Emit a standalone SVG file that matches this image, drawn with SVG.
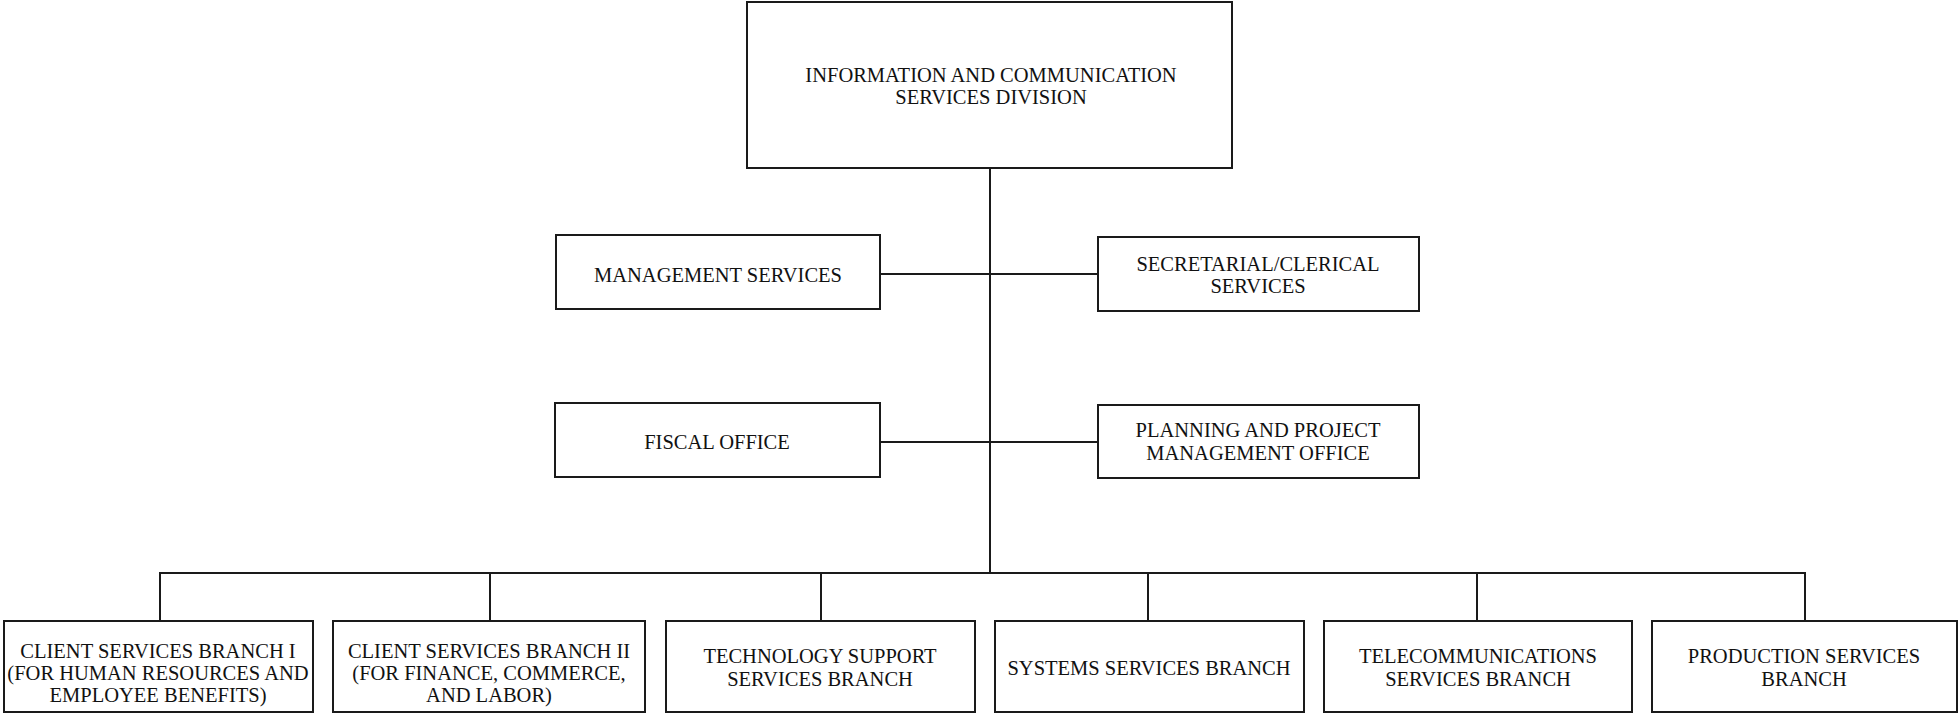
<svg xmlns="http://www.w3.org/2000/svg" width="1959" height="715" viewBox="0 0 1959 715">
<style>
.box{fill:#fff;stroke:#1a1a1a;stroke-width:2}
.ln{stroke:#1a1a1a;stroke-width:2;fill:none}
text{font-family:"Liberation Serif","Times New Roman",serif;font-size:20.5px;fill:#111;text-anchor:middle}
</style>
<rect width="1959" height="715" fill="#fff"/>
<g id="connectors">
<line class="ln" x1="990" y1="168" x2="990" y2="573"/>
<line class="ln" x1="880" y1="274" x2="1098" y2="274"/>
<line class="ln" x1="880" y1="442" x2="1098" y2="442"/>
<line class="ln" x1="159" y1="573" x2="1806" y2="573"/>
<line class="ln" x1="160" y1="573" x2="160" y2="621"/>
<line class="ln" x1="490" y1="573" x2="490" y2="621"/>
<line class="ln" x1="821" y1="573" x2="821" y2="621"/>
<line class="ln" x1="1148" y1="573" x2="1148" y2="621"/>
<line class="ln" x1="1477" y1="573" x2="1477" y2="621"/>
<line class="ln" x1="1805" y1="573" x2="1805" y2="621"/>
</g>
<g id="division">
<rect class="box" x="747" y="2" width="485" height="166"/>
<text x="991" y="82">INFORMATION AND COMMUNICATION</text>
<text x="991" y="104">SERVICES DIVISION</text>
</g>
<g id="management">
<rect class="box" x="556" y="235" width="324" height="74"/>
<text x="718" y="282">MANAGEMENT SERVICES</text>
</g>
<g id="secretarial">
<rect class="box" x="1098" y="237" width="321" height="74"/>
<text x="1258" y="271">SECRETARIAL/CLERICAL</text>
<text x="1258" y="293">SERVICES</text>
</g>
<g id="fiscal">
<rect class="box" x="555" y="403" width="325" height="74"/>
<text x="717" y="449">FISCAL OFFICE</text>
</g>
<g id="planning">
<rect class="box" x="1098" y="405" width="321" height="73"/>
<text x="1258" y="437">PLANNING AND PROJECT</text>
<text x="1258" y="460">MANAGEMENT OFFICE</text>
</g>
<g id="client1">
<rect class="box" x="4" y="621" width="309" height="91"/>
<text x="158" y="658">CLIENT SERVICES BRANCH I</text>
<text x="158" y="680">(FOR HUMAN RESOURCES AND</text>
<text x="158" y="702">EMPLOYEE BENEFITS)</text>
</g>
<g id="client2">
<rect class="box" x="333" y="621" width="312" height="91"/>
<text x="489" y="658">CLIENT SERVICES BRANCH II</text>
<text x="489" y="680">(FOR FINANCE, COMMERCE,</text>
<text x="489" y="702">AND LABOR)</text>
</g>
<g id="techsupport">
<rect class="box" x="666" y="621" width="309" height="91"/>
<text x="820" y="663">TECHNOLOGY SUPPORT</text>
<text x="820" y="686">SERVICES BRANCH</text>
</g>
<g id="systems">
<rect class="box" x="995" y="621" width="309" height="91"/>
<text x="1149" y="675">SYSTEMS SERVICES BRANCH</text>
</g>
<g id="telecom">
<rect class="box" x="1324" y="621" width="308" height="91"/>
<text x="1478" y="663">TELECOMMUNICATIONS</text>
<text x="1478" y="686">SERVICES BRANCH</text>
</g>
<g id="production">
<rect class="box" x="1652" y="621" width="305" height="91"/>
<text x="1804" y="663">PRODUCTION SERVICES</text>
<text x="1804" y="686">BRANCH</text>
</g>
</svg>
